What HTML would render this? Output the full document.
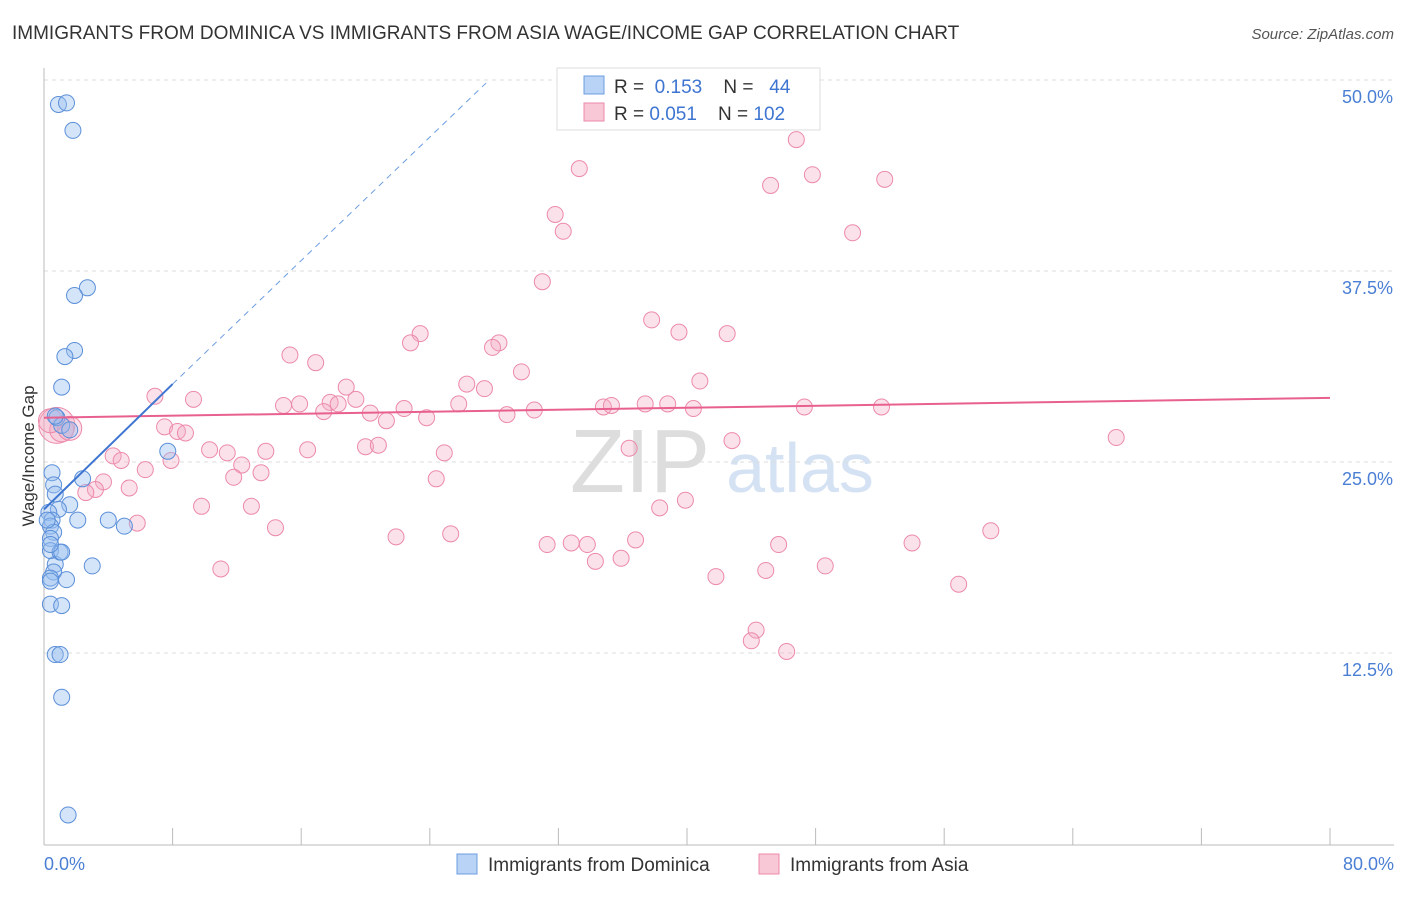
<!DOCTYPE html>
<html><head><meta charset="utf-8"><style>
body{margin:0;background:#fff;font-family:"Liberation Sans",sans-serif;}
svg text{font-family:"Liberation Sans",sans-serif;}
</style></head><body>
<svg id="chart" width="1406" height="892">
<text x="12" y="39" font-size="19" fill="#333">IMMIGRANTS FROM DOMINICA VS IMMIGRANTS FROM ASIA WAGE/INCOME GAP CORRELATION CHART</text>
<text x="1394" y="39" font-size="15" fill="#555" text-anchor="end" font-style="italic">Source: ZipAtlas.com</text>
<text x="640" y="492" font-size="90" fill="#ddd" font-family="Liberation Serif" text-anchor="middle">ZIP</text>
<text x="800" y="492" font-size="70" fill="#d4e2f4" text-anchor="middle">atlas</text>
<g id="grid"></g><g id="axes"></g><g id="marks"></g>
<text transform="translate(34,456) rotate(-90)" font-size="17" fill="#333" text-anchor="middle">Wage/Income Gap</text>
<text x="44" y="870" font-size="18" fill="#4a7fd4">0.0%</text>
<text x="1394" y="870" font-size="18" fill="#4a7fd4" text-anchor="end">80.0%</text>
<g>
<rect x="557" y="68" width="263" height="62" fill="#fff" stroke="#ddd"/>
<rect x="584" y="76" width="20" height="18" fill="#b8d3f5" stroke="#6d9de0"/>
<rect x="584" y="103" width="20" height="18" fill="#f8c8d6" stroke="#ec8aaa"/>
<text x="614" y="93" font-size="19" fill="#333" xml:space="preserve">R =  <tspan fill="#3d75d1">0.153</tspan>    N =   <tspan fill="#3d75d1">44</tspan></text>
<text x="614" y="120" font-size="19" fill="#333" xml:space="preserve">R = <tspan fill="#3d75d1">0.051</tspan>    N = <tspan fill="#3d75d1">102</tspan></text>
</g>
<g>
<rect x="457" y="854" width="20" height="20" fill="#b8d3f5" stroke="#6d9de0"/>
<text x="488" y="871" font-size="19" fill="#333">Immigrants from Dominica</text>
<rect x="759" y="854" width="20" height="20" fill="#f8c8d6" stroke="#ec8aaa"/>
<text x="790" y="871" font-size="19" fill="#333">Immigrants from Asia</text>
</g>
</svg>
<script>
const yTicks=[12.5,25,37.5,50];
const yTickLabels=["12.5%","25.0%","37.5%","50.0%"];
const xTicks=[0,8,16,24,32,40,48,56,64,72,80];
const blueX=[0.9,1.4,1.8,2.7,1.9,1.9,1.3,1.1,0.8,1.1,1.6,0.5,0.6,0.7,2.4,1.6,0.9,0.3,0.5,0.4,2.1,4.0,5.0,0.6,0.4,0.7,0.4,1.0,1.1,3.0,0.6,0.4,1.4,0.4,1.1,0.7,1.0,1.1,1.5,7.7,0.2,0.4,0.4,0.7];
const blueY=[48.4,48.5,46.7,36.4,35.9,32.3,31.9,29.9,27.9,27.4,27.1,24.3,23.5,22.9,23.9,22.2,21.9,21.7,21.2,20.8,21.2,21.2,20.8,20.4,20.0,18.3,19.2,19.1,19.1,18.2,17.8,17.4,17.3,15.7,15.6,12.4,12.4,9.6,1.9,25.7,21.2,19.6,17.2,28.0];
const pinkX=[46.8,33.3,45.2,47.8,52.3,31.8,32.3,50.3,31.0,37.8,39.5,42.5,23.4,22.8,28.3,27.9,15.3,16.9,29.7,40.8,26.3,18.8,27.4,19.4,17.8,14.9,15.9,25.8,20.3,21.3,23.8,34.8,35.3,37.4,38.8,40.4,47.3,52.1,6.9,9.3,18.3,17.4,22.4,30.5,28.8,7.5,8.3,8.8,20.0,20.8,42.8,10.3,11.4,13.8,16.4,36.4,24.9,4.3,4.8,7.9,12.3,24.4,13.5,6.3,11.8,3.7,3.2,2.6,5.3,9.8,12.9,38.3,39.9,5.8,14.4,36.8,45.7,66.7,33.8,21.9,25.3,31.3,32.8,58.9,34.3,35.9,54.0,11.0,41.8,44.9,48.6,56.9,44.3,44.0,46.2,0.8,1.1,1.6,0.4];
const pinkY=[46.1,44.2,43.1,43.8,43.5,41.2,40.1,40.0,36.8,34.3,33.5,33.4,33.4,32.8,32.8,32.5,32.0,31.5,30.9,30.3,30.1,29.9,29.8,29.1,28.9,28.7,28.8,28.8,28.2,27.7,27.9,28.6,28.7,28.8,28.8,28.5,28.6,28.6,29.3,29.1,28.8,28.3,28.5,28.4,28.1,27.3,27.0,26.9,26.0,26.1,26.4,25.8,25.6,25.7,25.8,25.9,25.6,25.4,25.1,25.1,24.8,23.9,24.3,24.5,24.0,23.7,23.2,23.0,23.3,22.1,22.1,22.0,22.5,21.0,20.7,19.9,19.6,26.6,19.6,20.1,20.3,19.6,19.7,20.5,18.5,18.7,19.7,18.0,17.5,17.9,18.2,17.0,14.0,13.3,12.6,27.4,27.1,27.2,27.7];
const X=v=>44+v*16.075, Y=v=>844-v*15.28;
const NS="http://www.w3.org/2000/svg";
function mk(tag,attrs,parent){const e=document.createElementNS(NS,tag);for(const k in attrs)e.setAttribute(k,attrs[k]);document.getElementById(parent).appendChild(e);return e;}
yTicks.forEach((t,i)=>{
 const g=mk('line',{x1:44,x2:1394,y1:Y(t),y2:Y(t),stroke:'#ddd','stroke-dasharray':'4,4'},'grid');
 
 
 const l=mk('text',{x:1393,y:Y(t)+23,'font-size':18,fill:'#4a7fd4','text-anchor':'end'},'grid');
 l.textContent=yTickLabels[i];
 
 
});
const ax=mk('line',{x1:44,x2:1394,y1:845,y2:845,stroke:'#bbb'},'axes');


const ay=mk('line',{x1:44,x2:44,y1:68,y2:845,stroke:'#bbb'},'axes');


xTicks.forEach(t=>{
 const tk=mk('line',{x1:X(t),x2:X(t),y1:828,y2:845,stroke:'#bbb'},'axes');
 
 
});
pinkX.forEach((x,i)=>{
 const big=i>=pinkX.length-4;
 const c=mk('circle',{cx:X(x),cy:Y(pinkY[i]),r:big?(i==pinkX.length-4?18:12):8,fill:'rgba(244,170,195,0.35)',stroke:'#ec8aaa','stroke-width':1},'marks');
 
 
});
blueX.forEach((x,i)=>{
 const c=mk('circle',{cx:X(x),cy:Y(blueY[i]),r:8,fill:'rgba(150,190,240,0.4)',stroke:'#5b8fd9','stroke-width':1},'marks');
 
 
});
const pl=mk('line',{x1:X(0),y1:Y(27.9),x2:X(80),y2:Y(29.2),stroke:'#e8608f','stroke-width':2},'marks');


const bd=mk('line',{x1:X(8),y1:Y(30.1),x2:X(27.5),y2:Y(49.8),stroke:'#6d9de0','stroke-width':1,'stroke-dasharray':'6,5'},'marks');


const bl=mk('line',{x1:X(0),y1:Y(21.9),x2:X(8),y2:Y(30.1),stroke:'#3d75d1','stroke-width':2},'marks');


</script>
</body></html>
